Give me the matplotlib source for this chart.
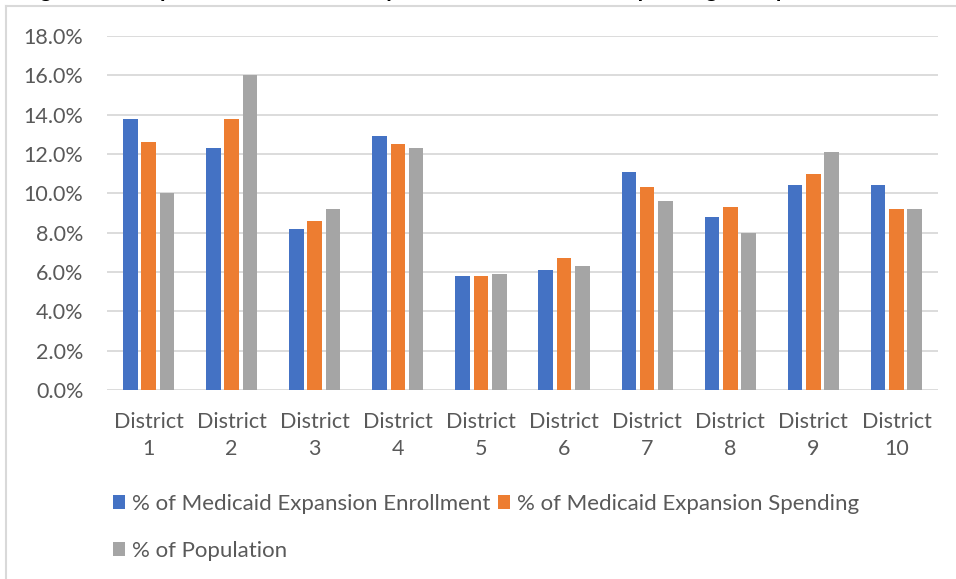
import numpy as np
import matplotlib.pyplot as plt
from matplotlib.lines import Line2D

districts = ["District\n1", "District\n2", "District\n3", "District\n4", "District\n5",
             "District\n6", "District\n7", "District\n8", "District\n9", "District\n10"]
enrollment = [13.8, 12.3, 8.2, 12.9, 5.8, 6.1, 11.1, 8.8, 10.4, 10.4]
spending = [12.6, 13.8, 8.6, 12.5, 5.8, 6.7, 10.3, 9.3, 11.0, 9.2]
population = [10.0, 16.0, 9.2, 12.3, 5.9, 6.3, 9.6, 8.0, 12.1, 9.2]
series_names = ["% of Medicaid Expansion Enrollment",
                "% of Medicaid Expansion Spending",
                "% of Population"]
colors = ["#4472C4", "#ED7D31", "#A5A5A5"]

plt.rcParams['font.family'] = ['Lato', 'DejaVu Sans']
text_color = "#595959"
grid_color = "#D9D9D9"

W, H = 956, 579
fig = plt.figure(figsize=(W / 100, H / 100), dpi=100)

# chart frame (left and top edges show)
fig.add_artist(Line2D([6 / W, 6 / W], [0, 1 - 6 / H], transform=fig.transFigure,
                      color=grid_color, lw=1.5))
fig.add_artist(Line2D([6 / W, 1], [1 - 6 / H, 1 - 6 / H], transform=fig.transFigure,
                      color=grid_color, lw=1.5))

# title sits above the frame, only the descenders reach the page
fig.text(22 / W, 1 + 3 / H, "Figure 3. Comparison of Medicaid Expansion Enrollment and Spending to Population",
         fontsize=16, fontweight='bold', color='black', va='baseline', ha='left')

ax = fig.add_axes([107 / W, 1 - 390 / H, (938 - 107) / W, (390 - 36) / H])

x = np.arange(len(districts))
width = 0.175
step = 0.22
for k, (vals, name, c) in enumerate(zip([enrollment, spending, population], series_names, colors)):
    ax.bar(x + (k - 1) * step, vals, width, color=c, label=name, zorder=3)

ax.set_xlim(-0.5, len(districts) - 0.5)
ax.set_ylim(0, 18)
ax.set_yticks(np.arange(0, 18.1, 2))
ax.set_yticklabels([f"{v:.1f}%" for v in np.arange(0, 18.1, 2)])
ax.set_xticks(x)
ax.set_xticklabels(districts, linespacing=1.4)
ax.grid(axis='y', color=grid_color, lw=1.3, zorder=0)
for s in ax.spines.values():
    s.set_visible(False)
ax.tick_params(axis='both', length=0, labelsize=15.5, colors=text_color)
ax.tick_params(axis='y', pad=17)
ax.tick_params(axis='x', pad=16)

handles, labels = ax.get_legend_handles_labels()
order = [0, 2, 1]
leg = fig.legend([handles[i] for i in order], [labels[i] for i in order],
                 loc='upper left', bbox_to_anchor=(113 / W, 1 - 494 / H), ncol=2,
                 frameon=False, fontsize=16, handlelength=0.55, handleheight=0.55,
                 handletextpad=0.3, columnspacing=0.35, labelspacing=1.2,
                 borderpad=0, borderaxespad=0)
for t in leg.get_texts():
    t.set_color(text_color)

fig.savefig("out.png", dpi=100)
